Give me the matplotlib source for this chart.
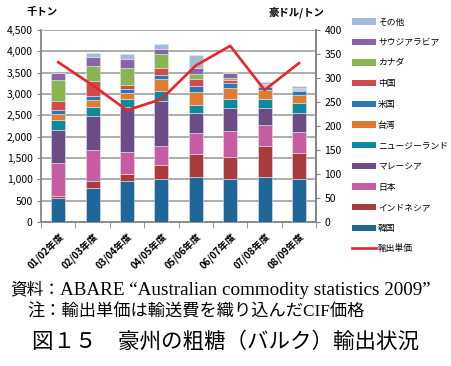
import numpy as np
import matplotlib
matplotlib.use('Agg')
import matplotlib.pyplot as plt
from matplotlib.patches import Patch
from matplotlib.lines import Line2D

plt.rcParams['font.family'] = ['Noto Sans CJK JP', 'DejaVu Sans']

# data
years = ['01/02年度', '02/03年度', '03/04年度', '04/05年度',
         '05/06年度', '06/07年度', '07/08年度', '08/09年度']
korea = [560, 790, 960, 1000, 1055, 1000, 1055, 1016]
indonesia = [55, 170, 165, 345, 540, 530, 735, 610]
japan = [775, 725, 515, 440, 485, 600, 485, 490]
malaysia = [765, 805, 1050, 1050, 470, 535, 405, 430]
nz = [240, 205, 195, 240, 185, 220, 205, 235]
taiwan = [140, 165, 140, 275, 310, 250, 210, 195]
usa = [85, 85, 95, 85, 140, 130, 80, 90]
china = [220, 365, 100, 185, 170, 55, 25, 35]
canada = [480, 345, 400, 320, 125, 45, 10, 25]
saudi = [170, 220, 195, 125, 130, 130, 25, 20]
other = [10, 95, 115, 105, 295, 25, 40, 40]
price = [333, 285, 233, 256, 326, 367, 275, 331]

series = [
    ('韓国', korea, '#1f6699'),
    ('インドネシア', indonesia, '#a83b3b'),
    ('日本', japan, '#c85ca2'),
    ('マレーシア', malaysia, '#6b4c87'),
    ('ニュージーランド', nz, '#0e889c'),
    ('台湾', taiwan, '#e07c2e'),
    ('米国', usa, '#2a76b6'),
    ('中国', china, '#d24a4c'),
    ('カナダ', canada, '#8bb551'),
    ('サウジアラビア', saudi, '#8765a7'),
    ('その他', other, '#a3bad9'),
]

fig = plt.figure(figsize=(4.51, 3.66), dpi=100)
ax = fig.add_axes([0.091, 0.393, 0.610, 0.525])
x = np.arange(len(years))

bottom = np.zeros(len(years))
for name, vals, col in series:
    ax.bar(x, vals, 0.41, bottom=bottom, color=col, edgecolor='#dde6f0',
           linewidth=0.4, zorder=3)
    bottom += np.array(vals)

gc = '#a6a6a6'
ax.set_ylim(0, 4500)
ax.set_yticks(np.arange(0, 4501, 500))
ax.set_yticklabels([f'{v:,}' for v in range(0, 4501, 500)], fontsize=7.5)
ax.yaxis.grid(True, color=gc, linewidth=1.3, zorder=0)
ax.set_axisbelow(True)
ax.set_xlim(-0.5, len(years) - 0.5)
ax.set_xticks(x)
ax.set_xticklabels(years, rotation=45, ha='right', rotation_mode='anchor',
                   fontsize=7, fontweight='bold')
ax.set_xticks(np.arange(-0.5, len(years)), minor=True)
ax.tick_params(axis='x', which='major', length=0, pad=6)
ax.tick_params(axis='x', which='minor', length=4, color='#868686')
ax.tick_params(axis='y', length=3, color='#868686', pad=3)
ax.spines['top'].set_visible(False)
for s in ['left', 'bottom', 'right']:
    ax.spines[s].set_color('#868686')
    ax.spines[s].set_linewidth(1.3)

ax2 = ax.twinx()
ax2.plot(x, price, color='#e8262a', linewidth=1.9, zorder=5)
ax2.set_ylim(0, 400)
ax2.set_yticks(np.arange(0, 401, 50))
ax2.tick_params(axis='y', labelsize=7.5, length=3, color='#868686', pad=3)
for s in ['top', 'left', 'bottom']:
    ax2.spines[s].set_visible(False)
ax2.spines['right'].set_color('#868686')
ax2.spines['right'].set_linewidth(1.3)

fig.text(0.093, 0.968, '千トン', fontsize=7.5, fontweight='bold', ha='center', va='center')
fig.text(0.658, 0.966, '豪ドル/トン', fontsize=7.5, fontweight='bold', ha='center', va='center')

# legend, top to bottom
handles = [Patch(facecolor=col, edgecolor='none') for name, vals, col in series[::-1]]
labels = [name for name, vals, col in series[::-1]]
handles.append(Line2D([0], [0], color='#e8262a', linewidth=1.9))
labels.append('輸出単価')
fig.legend(handles, labels, loc='upper left', bbox_to_anchor=(0.772, 0.962),
           frameon=False, fontsize=6.3, handlelength=2.75, handleheight=0.75,
           handletextpad=0.25, labelspacing=1.33, borderaxespad=0)

# notes under the chart
serif = ['Liberation Serif', 'Noto Sans CJK JP']
t1 = fig.text(0.022, 0.206, '資料：', fontsize=12, family=serif, va='center')
fig.canvas.draw()
bb = t1.get_window_extent()
fig.text(bb.x1 / fig.bbox.width, 0.206, 'ABARE “Australian commodity statistics 2009”',
         fontsize=13.8, family=serif, va='center')
fig.text(0.060, 0.145, '注：輸出単価は輸送費を織り込んだCIF価格',
         fontsize=12.4, family=serif, va='center')
fig.text(0.071, 0.066, '図１５　豪州の粗糖（バルク）輸出状況',
         fontsize=15.5, va='center')

fig.savefig('out.png', dpi=100)
